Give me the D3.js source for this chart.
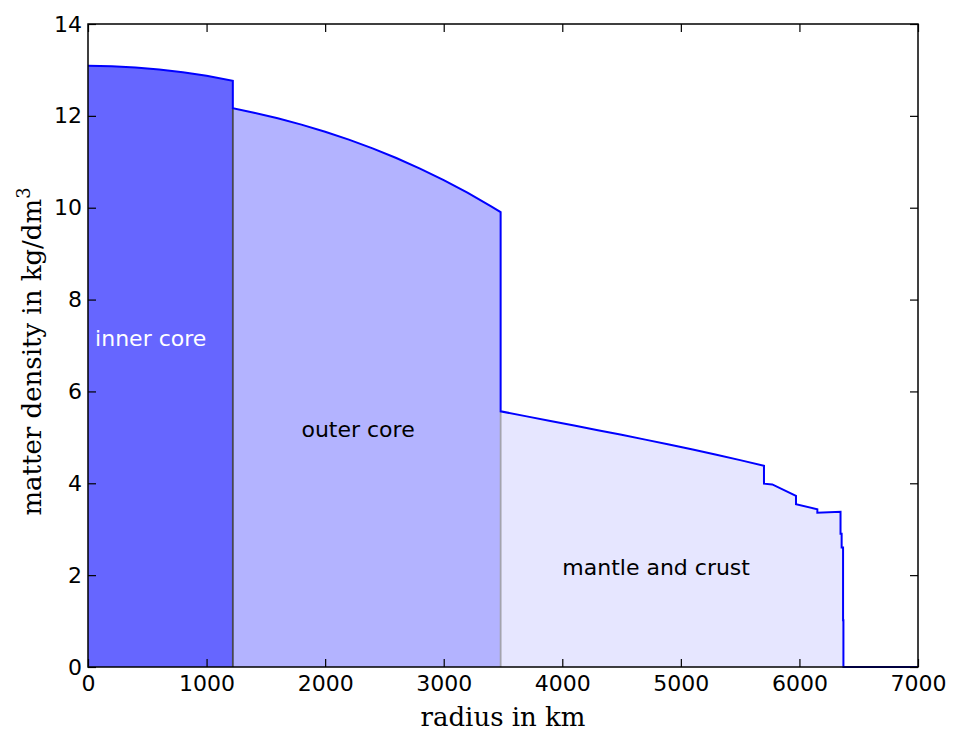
<!DOCTYPE html>
<html>
<head>
<meta charset="utf-8">
<script src="https://cdn.jsdelivr.net/npm/d3@7"></script>
<style>
  html, body { margin: 0; padding: 0; background: #fff; }
  svg { display: block; }
</style>
</head>
<body>
<div id="chart"></div>
<script>
// Density profile of the Earth, [radius in km, density in kg/dm^3]
const innerCore = [
  [0, 13.089], [200, 13.080], [400, 13.054], [600, 13.010],
  [800, 12.949], [1000, 12.871], [1221.5, 12.764]
];
const outerCore = [
  [1221.5, 12.166], [1400, 12.069], [1600, 11.947], [1800, 11.809],
  [2000, 11.655], [2200, 11.483], [2400, 11.293], [2600, 11.083],
  [2800, 10.853], [3000, 10.602], [3200, 10.327], [3400, 10.029],
  [3480, 9.904]
];
const mantleAndCrust = [
  [3480, 5.567], [3700, 5.457], [3900, 5.357], [4100, 5.257],
  [4300, 5.157], [4500, 5.055], [4700, 4.951], [4900, 4.844],
  [5100, 4.735], [5300, 4.621], [5500, 4.504], [5701, 4.381],
  [5701, 3.992], [5771, 3.976], [5971, 3.724],
  [5971, 3.543], [6151, 3.436],
  [6151, 3.360], [6346.6, 3.381],
  [6346.6, 2.900], [6356, 2.900],
  [6356, 2.600], [6368, 2.600],
  [6368, 1.020], [6371, 1.020],
  [6371, 0]
];
const outerSpace = [[6371, 0], [7000, 0]];

const regionLabels = [
  { text: "inner core", r: 60, rho: 7, color: "#ffffff" },
  { text: "outer core", r: 1800, rho: 5, color: "#000000" },
  { text: "mantle and crust", r: 4000, rho: 2, color: "#000000" }
];
const xTicks = [0, 1000, 2000, 3000, 4000, 5000, 6000, 7000];
const yTicks = [0, 2, 4, 6, 8, 10, 12, 14];

const W = 955, H = 733;
const margin = { left: 88, top: 24, right: 37, bottom: 66 };
const pw = W - margin.left - margin.right;
const ph = H - margin.top - margin.bottom;

const svg = d3.select("#chart").append("svg")
  .attr("width", W).attr("height", H);

const x = d3.scaleLinear().domain([0, 7000]).range([margin.left, margin.left + pw]);
const y = d3.scaleLinear().domain([0, 14]).range([margin.top + ph, margin.top]);

const area = d3.area().x(d => x(d[0])).y0(y(0)).y1(d => y(d[1]));
const line = d3.line().x(d => x(d[0])).y(d => y(d[1]));

// filled shells
const shells = [
  { data: innerCore, fill: "#6666ff" },
  { data: outerCore, fill: "#b3b3ff" },
  { data: mantleAndCrust, fill: "#e6e6ff" }
];
svg.append("g").selectAll("path").data(shells).join("path")
  .attr("d", d => area(d.data))
  .attr("fill", d => d.fill)
  .attr("stroke", "none");

// boundaries between shells
svg.append("line")
  .attr("x1", x(outerCore[0][0])).attr("x2", x(outerCore[0][0]))
  .attr("y1", y(0)).attr("y2", y(outerCore[0][1]))
  .attr("stroke", "#47474f").attr("stroke-width", 1.8);
svg.append("line")
  .attr("x1", x(mantleAndCrust[0][0])).attr("x2", x(mantleAndCrust[0][0]))
  .attr("y1", y(0)).attr("y2", y(mantleAndCrust[0][1]))
  .attr("stroke", "#a3a3ad").attr("stroke-width", 1.8);

// density curve across all shells
const profile = innerCore.concat(outerCore, mantleAndCrust, outerSpace);
svg.append("path")
  .attr("d", line(profile))
  .attr("fill", "none")
  .attr("stroke", "#0000ff")
  .attr("stroke-width", 2)
  .attr("stroke-linejoin", "miter");

// region labels
svg.append("g").selectAll("text").data(regionLabels).join("text")
  .attr("x", d => x(d.r)).attr("y", d => y(d.rho))
  .attr("fill", d => d.color)
  .attr("font-family", "DejaVu Sans")
  .attr("font-size", 22)
  .text(d => d.text);

// axes with inward ticks on all four sides
const tickLen = 8;
const axisFont = g => g.selectAll("text")
  .attr("font-family", "DejaVu Sans").attr("font-size", 22).attr("fill", "#000");
const styleAxis = g => {
  g.select(".domain").remove();
  g.selectAll(".tick line").attr("stroke", "#000").attr("stroke-width", 1.2);
};

svg.append("g").attr("transform", `translate(0,${y(0)})`)
  .call(d3.axisBottom(x).tickValues(xTicks).tickSize(-tickLen).tickPadding(8).tickFormat(d3.format("d")))
  .call(styleAxis).call(axisFont)
  .selectAll("text").attr("dy", "0.71em").attr("y", 8);
svg.append("g").attr("transform", `translate(0,${y(14)})`)
  .call(d3.axisTop(x).tickValues(xTicks).tickSize(-tickLen).tickFormat(""))
  .call(styleAxis);
svg.append("g").attr("transform", `translate(${x(0)},0)`)
  .call(d3.axisLeft(y).tickValues(yTicks).tickSize(-tickLen).tickPadding(6).tickFormat(d3.format("d")))
  .call(styleAxis).call(axisFont)
  .selectAll("text").attr("x", -6);
svg.append("g").attr("transform", `translate(${x(7000)},0)`)
  .call(d3.axisRight(y).tickValues(yTicks).tickSize(-tickLen).tickFormat(""))
  .call(styleAxis);

// plot frame
svg.append("rect")
  .attr("x", x(0)).attr("y", y(14))
  .attr("width", x(7000) - x(0)).attr("height", y(0) - y(14))
  .attr("fill", "none").attr("stroke", "#000").attr("stroke-width", 1.5);

// axis titles
svg.append("text")
  .attr("x", (x(0) + x(7000)) / 2).attr("y", 726)
  .attr("text-anchor", "middle")
  .attr("font-family", "DejaVu Serif").attr("font-size", 26)
  .text("radius in km");

const yTitle = svg.append("text")
  .attr("transform", `translate(41,${(y(0) + y(14)) / 2 + 6}) rotate(-90)`)
  .attr("text-anchor", "middle")
  .attr("font-family", "DejaVu Serif").attr("font-size", 26);
yTitle.append("tspan").text("matter density in kg/dm");
yTitle.append("tspan").attr("dy", -11).attr("font-size", 18).text("3");
</script>
</body>
</html>
